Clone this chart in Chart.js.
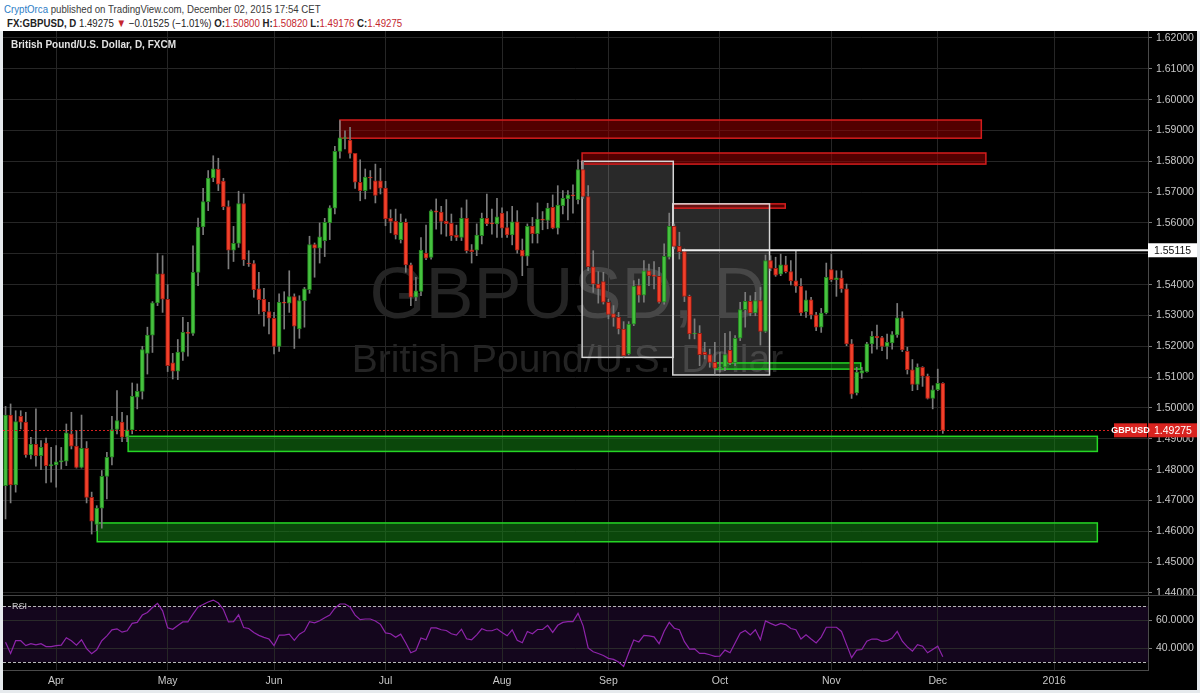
<!DOCTYPE html>
<html lang="en">
<head>
<meta charset="UTF-8">
<title>GBPUSD, D</title>
<script src="https://cdn.jsdelivr.net/npm/chart.js@4.4.3/dist/chart.umd.min.js"></script>
<style>
  body { margin: 0; width: 1200px; height: 693px; overflow: hidden; background: #e6eaed; position: relative;
         font-family: "Liberation Sans", Arial, sans-serif; }
  #head { position: absolute; left: 0; top: 0; width: 1200px; height: 31px; background: #fff; }
  #head .l1, #head .l2 { position: absolute; font-size: 11.5px; white-space: nowrap;
                         transform: scaleX(0.84); transform-origin: 0 0; }
  #head .l1 { left: 4px; top: 3px; color: #3a3a3a; }
  #head .l2 { left: 7px; top: 17px; color: #222; }
  #head .user { color: #2d7dc6; }
  #head .v, #head .dn { color: #c4262e; }
  #frame { position: absolute; left: 3px; top: 31px; width: 1194px; height: 659px; background: #454545; }
  #priceBox { position: absolute; left: 0; top: 0; width: 1194px; height: 564px; background: #000; }
  #rsiBox { position: absolute; left: 0; top: 565px; width: 1194px; height: 94px; background: #000; }
</style>
</head>
<body>
<div id="head">
  <div class="l1"><span class="user">CryptOrca</span> published on TradingView.com, December 02, 2015 17:54 CET</div>
  <div class="l2" id="quote"></div>
</div>
<div id="frame">
  <div id="priceBox"><canvas id="price" width="1194" height="564"></canvas></div>
  <div id="rsiBox"><canvas id="rsi" width="1194" height="94"></canvas></div>
</div>
<script>
// daily bars, 18 Mar 2015 .. 2 Dec 2015 (index 0 .. 185)
const OPEN = [
  1.4748,1.4977,1.4750,1.4973,1.4954,1.4848,1.4882,1.4845,1.4886,1.4813,
  1.4815,1.4825,1.4827,1.4916,1.4876,1.4807,1.4869,1.4710,1.4622,1.4675,
  1.4778,1.4840,1.4930,1.4954,1.4905,1.4929,1.5035,1.5054,1.5177,1.5236,
  1.5341,1.5435,1.5352,1.5146,1.5119,1.5181,1.5245,1.5242,1.5440,1.5587,
  1.5669,1.5746,1.5775,1.5736,1.5653,1.5512,1.5534,1.5663,1.5470,1.5468,
  1.5386,1.5352,1.5313,1.5291,1.5200,1.5343,1.5340,1.5361,1.5256,1.5348,
  1.5384,1.5530,1.5518,1.5543,1.5600,1.5648,1.5832,1.5874,1.5869,1.5826,
  1.5732,1.5705,1.5749,1.5737,1.5737,1.5713,1.5615,1.5605,1.5546,1.5602,
  1.5464,1.5359,1.5378,1.5502,1.5488,1.5639,1.5635,1.5605,1.5599,1.5561,
  1.5553,1.5615,1.5513,1.5512,1.5559,1.5615,1.5600,1.5597,1.5632,1.5585,
  1.5561,1.5604,1.5512,1.5492,1.5589,1.5565,1.5613,1.5608,1.5651,1.5583,
  1.5656,1.5678,1.5691,1.5676,1.5773,1.5686,1.5458,1.5402,1.5410,1.5343,
  1.5305,1.5294,1.5256,1.5175,1.5272,1.5397,1.5366,1.5445,1.5431,1.5427,
  1.5343,1.5489,1.5589,1.5524,1.5507,1.5362,1.5240,1.5242,1.5181,1.5173,
  1.5148,1.5129,1.5132,1.5187,1.5146,1.5226,1.5319,1.5346,1.5308,1.5348,
  1.5248,1.5478,1.5453,1.5434,1.5464,1.5442,1.5412,1.5395,1.5312,1.5351,
  1.5302,1.5262,1.5308,1.5449,1.5416,1.5421,1.5386,1.5208,1.5049,1.5113,
  1.5118,1.5208,1.5232,1.5228,1.5200,1.5211,1.5237,1.5292,1.5184,1.5124,
  1.5076,1.5132,1.5103,1.5031,1.5059,1.5080];
const HIGH = [
  1.5005,1.5013,1.4991,1.4991,1.4986,1.4905,1.4997,1.4894,1.4902,1.4872,
  1.4878,1.4872,1.4948,1.4986,1.4927,1.4977,1.4891,1.4727,1.4683,1.4797,
  1.4856,1.4973,1.5056,1.4986,1.4975,1.5081,1.5078,1.5200,1.5262,1.5345,
  1.5502,1.5494,1.5400,1.5177,1.5222,1.5294,1.5278,1.5526,1.5616,1.5712,
  1.5770,1.5818,1.5810,1.5745,1.5672,1.5589,1.5703,1.5694,1.5510,1.5478,
  1.5440,1.5388,1.5343,1.5310,1.5370,1.5377,1.5445,1.5370,1.5364,1.5391,
  1.5557,1.5535,1.5600,1.5615,1.5656,1.5849,1.5932,1.5899,1.5910,1.5826,
  1.5805,1.5775,1.5770,1.5791,1.5777,1.5735,1.5643,1.5645,1.5629,1.5613,
  1.5470,1.5424,1.5553,1.5593,1.5643,1.5678,1.5654,1.5676,1.5629,1.5593,
  1.5649,1.5675,1.5530,1.5597,1.5632,1.5694,1.5645,1.5680,1.5649,1.5637,
  1.5654,1.5640,1.5548,1.5597,1.5618,1.5665,1.5637,1.5664,1.5691,1.5721,
  1.5705,1.5705,1.5724,1.5805,1.5800,1.5721,1.5510,1.5442,1.5440,1.5353,
  1.5332,1.5310,1.5280,1.5280,1.5413,1.5418,1.5478,1.5467,1.5475,1.5456,
  1.5532,1.5632,1.5597,1.5570,1.5516,1.5366,1.5289,1.5267,1.5213,1.5191,
  1.5213,1.5181,1.5242,1.5248,1.5235,1.5343,1.5375,1.5364,1.5375,1.5391,
  1.5496,1.5494,1.5489,1.5499,1.5492,1.5478,1.5510,1.5420,1.5380,1.5359,
  1.5310,1.5323,1.5470,1.5499,1.5445,1.5445,1.5402,1.5222,1.5132,1.5132,
  1.5213,1.5248,1.5269,1.5232,1.5240,1.5248,1.5339,1.5312,1.5197,1.5157,
  1.5143,1.5134,1.5110,1.5072,1.5126,1.5082];
const LOW = [
  1.4640,1.4692,1.4727,1.4932,1.4840,1.4835,1.4811,1.4800,1.4757,1.4759,
  1.4743,1.4802,1.4813,1.4867,1.4805,1.4805,1.4692,1.4591,1.4602,1.4610,
  1.4705,1.4815,1.4916,1.4891,1.4891,1.4916,1.4997,1.5029,1.5110,1.5180,
  1.5332,1.5310,1.5118,1.5094,1.5092,1.5154,1.5168,1.5235,1.5397,1.5562,
  1.5640,1.5734,1.5705,1.5643,1.5451,1.5475,1.5521,1.5462,1.5459,1.5359,
  1.5305,1.5265,1.5240,1.5175,1.5183,1.5256,1.5310,1.5193,1.5226,1.5262,
  1.5372,1.5424,1.5470,1.5491,1.5546,1.5629,1.5810,1.5840,1.5810,1.5712,
  1.5672,1.5678,1.5710,1.5665,1.5694,1.5591,1.5568,1.5548,1.5535,1.5440,
  1.5332,1.5348,1.5364,1.5481,1.5483,1.5580,1.5564,1.5557,1.5543,1.5543,
  1.5543,1.5503,1.5470,1.5494,1.5532,1.5591,1.5564,1.5553,1.5553,1.5553,
  1.5529,1.5502,1.5429,1.5462,1.5535,1.5535,1.5578,1.5581,1.5581,1.5564,
  1.5629,1.5610,1.5632,1.5662,1.5680,1.5445,1.5375,1.5340,1.5337,1.5289,
  1.5265,1.5240,1.5164,1.5172,1.5267,1.5343,1.5343,1.5397,1.5386,1.5340,
  1.5337,1.5483,1.5516,1.5483,1.5345,1.5224,1.5224,1.5137,1.5159,1.5132,
  1.5110,1.5116,1.5121,1.5140,1.5137,1.5218,1.5262,1.5299,1.5299,1.5204,
  1.5245,1.5445,1.5427,1.5429,1.5438,1.5399,1.5375,1.5299,1.5294,1.5289,
  1.5251,1.5245,1.5305,1.5410,1.5362,1.5375,1.5202,1.5031,1.5042,1.5096,
  1.5116,1.5178,1.5191,1.5186,1.5159,1.5191,1.5229,1.5183,1.5110,1.5056,
  1.5059,1.5070,1.5029,1.4997,1.5056,1.49176];
const CLOSE = [
  1.4977,1.4750,1.4956,1.4954,1.4848,1.4882,1.4845,1.4872,1.4813,1.4815,
  1.4825,1.4829,1.4919,1.4876,1.4807,1.4869,1.4710,1.4633,1.4675,1.4778,
  1.4840,1.4930,1.4959,1.4905,1.4929,1.5038,1.5054,1.5189,1.5236,1.5341,
  1.5435,1.5353,1.5137,1.5119,1.5181,1.5245,1.5242,1.5440,1.5587,1.5669,
  1.5746,1.5776,1.5726,1.5653,1.5512,1.5534,1.5663,1.5481,1.5467,1.5384,
  1.5351,1.5312,1.5291,1.5200,1.5343,1.5340,1.5361,1.5265,1.5348,1.5386,
  1.5530,1.5518,1.5555,1.5602,1.5649,1.5832,1.5876,1.5877,1.5826,1.5732,
  1.5705,1.5749,1.5746,1.5689,1.5713,1.5613,1.5605,1.5561,1.5602,1.5464,
  1.5359,1.5380,1.5512,1.5486,1.5639,1.5635,1.5605,1.5598,1.5559,1.5553,
  1.5615,1.5510,1.5507,1.5561,1.5615,1.5597,1.5597,1.5620,1.5583,1.5561,
  1.5604,1.5512,1.5492,1.5589,1.5565,1.5613,1.5609,1.5648,1.5583,1.5658,
  1.5680,1.5691,1.5688,1.5773,1.5686,1.5458,1.5402,1.5388,1.5343,1.5303,
  1.5294,1.5256,1.5170,1.5272,1.5395,1.5366,1.5445,1.5429,1.5427,1.5343,
  1.5492,1.5589,1.5524,1.5507,1.5362,1.5240,1.5243,1.5173,1.5173,1.5148,
  1.5129,1.5132,1.5173,1.5146,1.5226,1.5319,1.5346,1.5308,1.5348,1.5248,
  1.5478,1.5453,1.5431,1.5464,1.5442,1.5412,1.5395,1.5308,1.5351,1.5302,
  1.5262,1.5308,1.5424,1.5416,1.5422,1.5386,1.5208,1.5045,1.5116,1.5121,
  1.5208,1.5232,1.5228,1.5200,1.5213,1.5238,1.5292,1.5188,1.5124,1.5076,
  1.5132,1.5103,1.5031,1.5059,1.5080,1.49275];
const RSI = [
  44.3,36.3,45.4,45.4,41.9,43.3,42.4,43.3,41.2,41.2,
  41.9,42.2,47.5,45.4,42.2,46.1,39.8,36.1,38.9,45.4,
  48.9,53.2,53.9,51.5,52.5,57.8,58.5,63.7,65.6,69.1,
  72.1,66.7,54.6,53.6,56.2,58.8,58.8,64.4,69.5,71.2,
  73.0,74.4,72.3,67.7,58.8,59.0,63.9,54.8,54.1,51.3,
  49.2,47.8,46.6,41.9,49.4,49.4,50.1,45.7,50.1,52.2,
  59.0,58.1,59.7,61.8,63.7,68.6,71.6,71.6,69.5,63.7,
  60.4,60.9,60.9,59.5,57.1,51.0,50.4,47.8,50.1,43.8,
  36.8,38.4,47.3,46.1,54.6,54.6,53.2,52.7,50.4,49.4,
  53.6,46.8,46.1,49.6,53.9,52.5,52.5,53.9,51.3,48.9,
  53.2,45.7,44.0,52.0,50.4,53.4,53.4,56.4,51.3,56.4,
  58.5,59.0,59.0,64.9,56.0,40.3,37.5,36.3,34.9,32.8,
  32.1,30.2,27.0,36.8,45.9,44.5,49.2,48.9,48.2,43.3,
  52.2,58.5,54.3,53.2,44.7,39.4,39.6,36.3,36.3,35.4,
  34.2,34.4,38.7,36.8,43.8,50.8,52.7,49.6,53.2,46.1,
  59.5,57.8,56.2,57.8,56.9,54.1,53.2,46.6,49.6,46.6,
  43.8,48.0,55.0,55.0,55.0,52.0,42.6,33.3,38.7,39.1,
  45.0,46.6,46.6,45.0,45.4,47.3,52.0,45.0,41.0,38.0,
  42.6,41.5,36.8,39.1,41.5,34.0];

const SLOTS = 226; // bar slots on the time axis, incl. the empty space on the right
const MONTH_TICKS = [[10,'Apr'],[32,'May'],[53,'Jun'],[75,'Jul'],[98,'Aug'],[119,'Sep'],[141,'Oct'],[163,'Nov'],[184,'Dec'],[207,'2016']];
const PRICE_TICKS = [1.44,1.45,1.46,1.47,1.48,1.49,1.50,1.51,1.52,1.53,1.54,1.55,1.56,1.57,1.58,1.59,1.60,1.61,1.62];
const PRICE_RANGE = [1.43933, 1.62227];
const RSI_TICKS = [40, 60];
const RSI_BANDS = [30, 70];
const RSI_RANGE = [24.5, 76.6];

// drawn zones: [from bar, to bar, upper price, lower price]
const RED_ZONES = [[66.0, 192.6, 1.5934, 1.5875], [113.8, 193.5, 1.5827, 1.5791], [131.8, 153.9, 1.5662, 1.5648]];
const BOX_ZONES = [[113.8, 131.8, 1.5800, 1.5164], [131.7, 150.8, 1.5662, 1.5107]];
const GREEN_ZONES = [[140.2, 168.8, 1.5146, 1.5126], [24.2, 215.5, 1.4908, 1.4859], [18.1, 215.5, 1.4627, 1.4566]];
const LEVEL = [133.5, 1.55115]; // horizontal line: start bar, price

const FONT = '"Liberation Sans", Arial, sans-serif';
Chart.defaults.font.family = FONT;
Chart.defaults.font.size = 10.5;
Chart.defaults.color = '#c8c8c8';

const last = CLOSE.length - 1;
const fmt = v => v.toFixed(5);
const chg = CLOSE[last] - CLOSE[last - 1];
document.getElementById('quote').innerHTML =
  '<b>FX:GBPUSD, D</b> ' + fmt(CLOSE[last]) + ' <span class="dn">&#9660;</span> ' +
  (chg < 0 ? '\u2212' : '+') + Math.abs(chg).toFixed(5) + ' (' + (chg < 0 ? '\u2212' : '+') +
  Math.abs(chg / CLOSE[last - 1] * 100).toFixed(2) + '%) ' +
  '<b>O:</b><span class="v">' + fmt(OPEN[last]) + '</span> <b>H:</b><span class="v">' + fmt(HIGH[last]) +
  '</span> <b>L:</b><span class="v">' + fmt(LOW[last]) + '</span> <b>C:</b><span class="v">' + fmt(CLOSE[last]) + '</span>';

const labels = Array.from({length: SLOTS}, (_, i) => String(i));
const months = new Map(MONTH_TICKS);
const up = OPEN.map((o, i) => CLOSE[i] >= o);
const GRID = '#262626';

function noPad(s) { s.paddingTop = 0; s.paddingBottom = 0; s.paddingLeft = 0; s.paddingRight = 0; }

const xAxis = (showLabels) => ({
  type: 'category',
  offset: true,
  grid: { offset: false, drawTicks: false, color: c => months.has(c.index) ? GRID : 'transparent' },
  border: { display: showLabels, color: '#4a4a4a' },
  ticks: { display: showLabels, autoSkip: false, maxRotation: 0, padding: 5, color: '#c8c8c8',
           callback: (v, i) => months.get(i) || '' },
  afterFit: s => { s.height = showLabels ? 20 : 0; noPad(s); }
});

const priceOverlay = {
  id: 'priceOverlay',
  beforeDatasetsDraw(chart) {
    const {ctx, chartArea: a, scales: {x, y}} = chart;
    const box = z => {
      const l = x.getPixelForValue(z[0]), r = x.getPixelForValue(z[1]);
      const t = y.getPixelForValue(z[2]), b = y.getPixelForValue(z[3]);
      return [l, t, r - l, b - t];
    };
    ctx.save();
    ctx.beginPath(); ctx.rect(a.left, a.top, a.width, a.height); ctx.clip();
    // watermark
    const cx = (a.left + a.right) / 2 - 8;
    ctx.fillStyle = '#242424';
    ctx.textAlign = 'center';
    ctx.textBaseline = 'alphabetic';
    ctx.font = '72px ' + FONT;
    ctx.fillText('GBPUSD, D', cx, 287);
    ctx.font = '39px ' + FONT;
    ctx.fillText('British Pound/U.S. Dollar', cx, 341);

    BOX_ZONES.forEach(z => { ctx.fillStyle = 'rgba(255,255,255,0.16)'; ctx.fillRect(...box(z)); });
    RED_ZONES.forEach(z => {
      ctx.fillStyle = 'rgba(150,0,0,0.55)'; ctx.fillRect(...box(z));
      ctx.strokeStyle = '#d41c1c'; ctx.lineWidth = 1.5; ctx.strokeRect(...box(z));
    });
    GREEN_ZONES.forEach(z => {
      ctx.fillStyle = 'rgba(20,130,20,0.55)'; ctx.fillRect(...box(z));
      ctx.strokeStyle = '#25d625'; ctx.lineWidth = 1.5; ctx.strokeRect(...box(z));
    });
    BOX_ZONES.forEach(z => { ctx.strokeStyle = '#d6d6d6'; ctx.lineWidth = 1.5; ctx.strokeRect(...box(z)); });
    ctx.restore();
  },
  afterDatasetsDraw(chart) {
    const {ctx, chartArea: a, scales: {x, y}} = chart;
    ctx.save();
    // horizontal level
    const ly = y.getPixelForValue(LEVEL[1]);
    ctx.strokeStyle = '#eeeeee'; ctx.lineWidth = 2;
    ctx.beginPath(); ctx.moveTo(x.getPixelForValue(LEVEL[0]), ly); ctx.lineTo(a.right, ly); ctx.stroke();
    // last price line
    const cy = Math.round(y.getPixelForValue(CLOSE[last])) + 0.5;
    ctx.strokeStyle = '#d42020'; ctx.lineWidth = 1; ctx.setLineDash([2, 2]);
    ctx.beginPath(); ctx.moveTo(a.left, cy); ctx.lineTo(a.right, cy); ctx.stroke();
    ctx.setLineDash([]);
    // pane title
    ctx.fillStyle = '#e2e2e2'; ctx.font = 'bold 10px ' + FONT;
    ctx.textAlign = 'left'; ctx.textBaseline = 'middle';
    ctx.fillText('British Pound/U.S. Dollar, D, FXCM', a.left + 8, 14);
    ctx.restore();
  },
  afterDraw(chart) {
    const {ctx, chartArea: a, scales: {y}} = chart;
    ctx.save();
    ctx.font = '10.5px ' + FONT; ctx.textBaseline = 'middle'; ctx.textAlign = 'left';
    const tag = (v, bg, fg) => {
      const py = y.getPixelForValue(v);
      ctx.fillStyle = bg; ctx.fillRect(a.right, py - 7, 50, 14);
      ctx.fillStyle = fg; ctx.fillText(fmt(v), a.right + 6, py + 0.5);
    };
    tag(LEVEL[1], '#ffffff', '#111');
    tag(CLOSE[last], '#d8231f', '#fff');
    const py = y.getPixelForValue(CLOSE[last]);
    ctx.fillStyle = '#d8231f'; ctx.fillRect(a.right - 34, py - 7, 33, 14);
    ctx.fillStyle = '#fff'; ctx.font = 'bold 9px ' + FONT; ctx.textAlign = 'center';
    ctx.fillText('GBPUSD', a.right - 17.5, py + 0.5);
    ctx.restore();
  }
};

new Chart(document.getElementById('price'), {
  type: 'bar',
  data: {
    labels,
    datasets: [
      { label: 'body', data: OPEN.map((o, i) => [o, CLOSE[i]]), order: 0, grouped: false,
        barThickness: 4, minBarLength: 1, borderWidth: 1, borderSkipped: false,
        backgroundColor: up.map(u => u ? '#46c23f' : '#f2402a'),
        borderColor: up.map(u => u ? '#23801f' : '#a01c12') },
      { label: 'wick', data: LOW.map((l, i) => [l, HIGH[i]]), order: 1, grouped: false,
        barThickness: 1, backgroundColor: '#7c7c7c', borderWidth: 0 }
    ]
  },
  options: {
    responsive: false, animation: false, devicePixelRatio: 1,
    layout: { padding: 0 },
    plugins: { legend: { display: false }, tooltip: { enabled: false } },
    scales: {
      x: xAxis(false),
      y: {
        position: 'right', min: PRICE_RANGE[0], max: PRICE_RANGE[1],
        grid: { color: GRID, tickLength: 4, tickColor: '#777' },
        border: { color: '#4a4a4a' },
        ticks: { padding: 4, color: '#c8c8c8', callback: v => fmt(v) },
        afterBuildTicks: s => { s.ticks = PRICE_TICKS.map(v => ({value: v})); },
        afterFit: s => { s.width = 49; noPad(s); }
      }
    }
  },
  plugins: [priceOverlay]
});

const rsiOverlay = {
  id: 'rsiOverlay',
  beforeDraw(chart) {
    const {ctx, chartArea: a, scales: {y}} = chart;
    const t = y.getPixelForValue(RSI_BANDS[1]), b = y.getPixelForValue(RSI_BANDS[0]);
    ctx.save();
    ctx.fillStyle = '#14061d';
    ctx.fillRect(a.left, t, a.width, b - t);
    ctx.restore();
  },
  beforeDatasetsDraw(chart) {
    const {ctx, chartArea: a, scales: {y}} = chart;
    ctx.save();
    ctx.strokeStyle = '#b8b8b8'; ctx.lineWidth = 1; ctx.setLineDash([3, 2]);
    RSI_BANDS.forEach(v => {
      const py = Math.round(y.getPixelForValue(v)) + 0.5;
      ctx.beginPath(); ctx.moveTo(a.left, py); ctx.lineTo(a.right, py); ctx.stroke();
    });
    ctx.restore();
  },
  afterDraw(chart) {
    const {ctx, chartArea: a} = chart;
    ctx.save();
    ctx.fillStyle = '#c8c8c8'; ctx.font = '9px ' + FONT; ctx.textBaseline = 'middle';
    ctx.fillText('RSI', a.left + 9, a.top + 10);
    ctx.restore();
  }
};

new Chart(document.getElementById('rsi'), {
  type: 'line',
  data: {
    labels,
    datasets: [{ label: 'RSI', data: RSI, borderColor: '#8e24aa', borderWidth: 1.2, pointRadius: 0, tension: 0 }]
  },
  options: {
    responsive: false, animation: false, devicePixelRatio: 1,
    layout: { padding: { top: 1 } },
    plugins: { legend: { display: false }, tooltip: { enabled: false } },
    scales: {
      x: xAxis(true),
      y: {
        position: 'right', min: RSI_RANGE[0], max: RSI_RANGE[1],
        grid: { color: '#2a2a2a', tickLength: 4, tickColor: '#777' },
        border: { color: '#4a4a4a' },
        ticks: { padding: 4, color: '#c8c8c8', callback: v => v.toFixed(4) },
        afterBuildTicks: s => { s.ticks = RSI_TICKS.map(v => ({value: v})); },
        afterFit: s => { s.width = 49; noPad(s); }
      }
    }
  },
  plugins: [rsiOverlay]
});
</script>
</body>
</html>
